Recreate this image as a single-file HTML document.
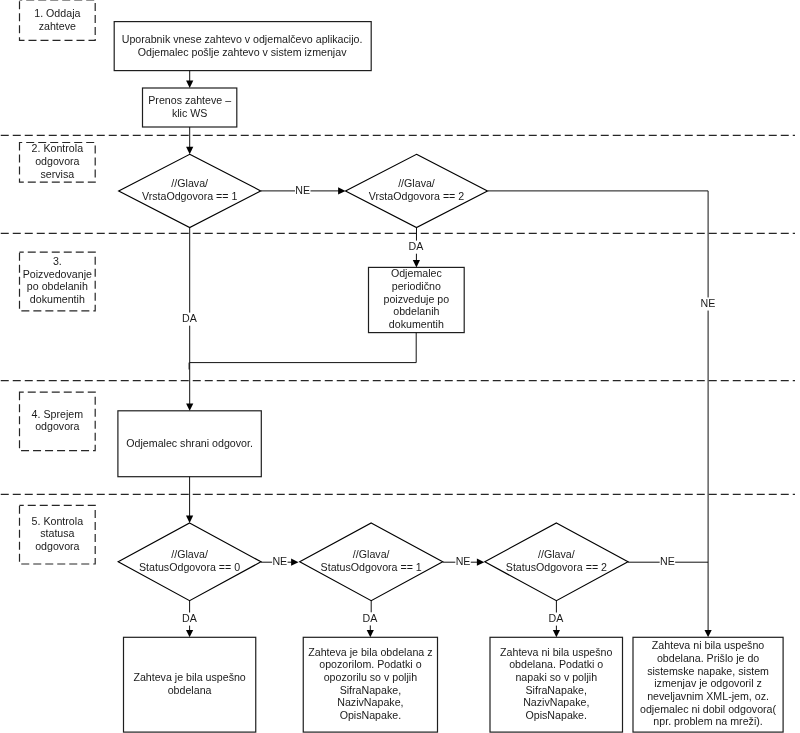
<!DOCTYPE html>
<html><head><meta charset="utf-8"><title>Flowchart</title>
<style>
html,body{margin:0;padding:0;background:#fff;width:800px;height:733px;overflow:hidden}
svg{display:block;will-change:transform}
text{font-family:"Liberation Sans",sans-serif;font-size:10.65px;fill:#1a1a1a;text-anchor:middle}
.sep{stroke:#262626;stroke-width:1.2;stroke-dasharray:8 4;stroke-dashoffset:-0.75;fill:none}
.lbl{stroke:#262626;stroke-width:1.2;stroke-dasharray:8 4;stroke-dashoffset:5.3;fill:none}
.box{stroke:#1e1e1e;stroke-width:1.2;fill:none}
.dia{stroke:#000;stroke-width:1.15;fill:none}
.con{stroke:#111;stroke-width:1;fill:none}
.ah{fill:#000;stroke:none}
.lb{fill:#fff;stroke:none}
</style></head>
<body><svg width="800" height="733" viewBox="0 0 800 733">
<line class="sep" x1="0" y1="135.35" x2="795" y2="135.35"/>
<line class="sep" x1="0" y1="233.4" x2="795" y2="233.4"/>
<line class="sep" x1="0" y1="380.6" x2="795" y2="380.6"/>
<line class="sep" x1="0" y1="494.35" x2="795" y2="494.35"/>
<path class="lbl" style="stroke-dashoffset:5.3" d="M19.5,0.0 H95.2 V40.3 H19.5 Z"/>
<text x="57.35" y="17.00">1. Oddaja</text>
<text x="57.35" y="29.50">zahteve</text>
<path class="lbl" style="stroke-dashoffset:5.3" d="M19.5,142.5 H95.2 V182.1 H19.5 Z"/>
<text x="57.35" y="152.30">2. Kontrola</text>
<text x="57.35" y="164.90">odgovora</text>
<text x="57.35" y="177.50">servisa</text>
<path class="lbl" style="stroke-dashoffset:3.75" d="M19.5,252.2 H95.2 V310.9 H19.5 Z"/>
<text x="57.35" y="265.00">3.</text>
<text x="57.35" y="277.60">Poizvedovanje</text>
<text x="57.35" y="290.20">po obdelanih</text>
<text x="57.35" y="302.80">dokumentih</text>
<path class="lbl" style="stroke-dashoffset:3.75" d="M19.5,392.2 H95.2 V450.6 H19.5 Z"/>
<text x="57.35" y="417.70">4. Sprejem</text>
<text x="57.35" y="430.30">odgovora</text>
<path class="lbl" style="stroke-dashoffset:3.75" d="M19.5,505.4 H95.2 V564.0 H19.5 Z"/>
<text x="57.35" y="524.60">5. Kontrola</text>
<text x="57.35" y="537.20">statusa</text>
<text x="57.35" y="549.80">odgovora</text>
<rect class="box" x="114.2" y="21.6" width="257.00" height="49.00"/>
<text x="242.10" y="42.80">Uporabnik vnese zahtevo v odjemalčevo aplikacijo.</text>
<text x="242.10" y="55.50">Odjemalec pošlje zahtevo v sistem izmenjav</text>
<rect class="box" x="142.5" y="88" width="94.30" height="39.00"/>
<text x="189.65" y="103.75">Prenos zahteve –</text>
<text x="189.65" y="116.50">klic WS</text>
<rect class="box" x="368.5" y="267.4" width="95.70" height="65.20"/>
<text x="416.35" y="277.40">Odjemalec</text>
<text x="416.35" y="290.00">periodično</text>
<text x="416.35" y="302.60">poizveduje po</text>
<text x="416.35" y="315.20">obdelanih</text>
<text x="416.35" y="327.90">dokumentih</text>
<rect class="box" x="117.9" y="410.8" width="143.40" height="65.90"/>
<text x="189.60" y="446.70">Odjemalec shrani odgovor.</text>
<rect class="box" x="123.5" y="637.3" width="132.25" height="94.80"/>
<text x="189.60" y="681.25">Zahteva je bila uspešno</text>
<text x="189.60" y="693.75">obdelana</text>
<rect class="box" x="303.25" y="637.3" width="134.25" height="94.80"/>
<text x="370.40" y="655.50">Zahteva je bila obdelana z</text>
<text x="370.40" y="668.20">opozorilom. Podatki o</text>
<text x="370.40" y="680.90">opozorilu so v poljih</text>
<text x="370.40" y="693.60">SifraNapake,</text>
<text x="370.40" y="706.20">NazivNapake,</text>
<text x="370.40" y="718.80">OpisNapake.</text>
<rect class="box" x="490" y="637.3" width="132.50" height="94.80"/>
<text x="556.25" y="655.50">Zahteva ni bila uspešno</text>
<text x="556.25" y="668.20">obdelana. Podatki o</text>
<text x="556.25" y="680.90">napaki so v poljih</text>
<text x="556.25" y="693.60">SifraNapake,</text>
<text x="556.25" y="706.20">NazivNapake,</text>
<text x="556.25" y="718.80">OpisNapake.</text>
<rect class="box" x="633" y="637.3" width="150.10" height="94.80"/>
<text x="708.05" y="649.00">Zahteva ni bila uspešno</text>
<text x="708.05" y="661.80">obdelana. Prišlo je do</text>
<text x="708.05" y="674.50">sistemske napake, sistem</text>
<text x="708.05" y="687.20">izmenjav je odgovoril z</text>
<text x="708.05" y="699.90">neveljavnim XML-jem, oz.</text>
<text x="708.05" y="712.60">odjemalec ni dobil odgovora(</text>
<text x="708.05" y="725.40">npr. problem na mreži).</text>
<path class="dia" d="M189.7,154.3 L260.7,190.9 L189.7,227.5 L118.69999999999999,190.9 Z"/>
<text x="189.70" y="186.70">//Glava/</text>
<text x="189.70" y="199.50">VrstaOdgovora == 1</text>
<path class="dia" d="M416.5,154.3 L487.5,190.9 L416.5,227.5 L345.5,190.9 Z"/>
<text x="416.50" y="186.70">//Glava/</text>
<text x="416.50" y="199.50">VrstaOdgovora == 2</text>
<path class="dia" d="M189.6,522.9 L261.0,561.8 L189.6,600.6999999999999 L118.19999999999999,561.8 Z"/>
<text x="189.60" y="558.30">//Glava/</text>
<text x="189.60" y="571.20">StatusOdgovora == 0</text>
<path class="dia" d="M371.2,522.9 L442.7,561.8 L371.2,600.6999999999999 L299.7,561.8 Z"/>
<text x="371.20" y="558.30">//Glava/</text>
<text x="371.20" y="571.20">StatusOdgovora == 1</text>
<path class="dia" d="M556.4,522.9 L628.0,561.8 L556.4,600.6999999999999 L484.79999999999995,561.8 Z"/>
<text x="556.40" y="558.30">//Glava/</text>
<text x="556.40" y="571.20">StatusOdgovora == 2</text>
<path class="con" d="M189.7,70.6 L189.7,84"/>
<path class="ah" d="M189.7,88 L186.1,80.6 L193.29999999999998,80.6 Z"/>
<path class="con" d="M189.7,127 L189.7,150"/>
<path class="ah" d="M189.7,154.25 L186.1,146.85 L193.29999999999998,146.85 Z"/>
<path class="con" d="M260.7,190.9 L341,190.9"/>
<path class="ah" d="M345.5,190.9 L338.1,187.3 L338.1,194.5 Z"/>
<path class="con" d="M487.5,190.9 L708.1,190.9 L708.1,633"/>
<path class="ah" d="M708.1,637.3 L704.5,629.9 L711.7,629.9 Z"/>
<path class="con" d="M416.5,227.5 L416.4,263"/>
<path class="ah" d="M416.4,267.4 L412.79999999999995,260.0 L420.0,260.0 Z"/>
<path class="con" d="M189.7,227.5 L189.7,406"/>
<path class="ah" d="M189.7,410.8 L186.1,403.40000000000003 L193.29999999999998,403.40000000000003 Z"/>
<path class="con" d="M416.2,332.6 L416.2,362.6 L189.7,362.6"/>
<path class="con" d="M189.1,362.6 L189.1,369.5"/>
<path class="con" d="M189.6,476.7 L189.6,518"/>
<path class="ah" d="M189.6,522.9 L186.0,515.5 L193.2,515.5 Z"/>
<path class="con" d="M261.0,562.2 L294,562.2"/>
<path class="ah" d="M298.5,562.2 L291.1,558.6 L291.1,565.8000000000001 Z"/>
<path class="con" d="M442.7,562.2 L479,562.2"/>
<path class="ah" d="M484.3,562.2 L476.90000000000003,558.6 L476.90000000000003,565.8000000000001 Z"/>
<path class="con" d="M628.0,562.2 L708.1,562.2"/>
<path class="con" d="M189.6,600.7 L189.6,632"/>
<path class="ah" d="M189.6,637.3 L186.0,629.9 L193.2,629.9 Z"/>
<path class="con" d="M371.2,600.7 L371.2,618 L370.3,618 L370.3,632"/>
<path class="ah" d="M370.3,637.3 L366.7,629.9 L373.90000000000003,629.9 Z"/>
<path class="con" d="M556.4,600.7 L556.4,632"/>
<path class="ah" d="M556.4,637.3 L552.8,629.9 L560.0,629.9 Z"/>
<rect class="lb" x="295.00" y="184.30" width="15.5" height="13.1"/>
<text x="302.75" y="193.70">NE</text>
<rect class="lb" x="700.15" y="297.45" width="15.5" height="13.1"/>
<text x="707.90" y="306.85">NE</text>
<rect class="lb" x="408.25" y="240.60" width="15.5" height="13.1"/>
<text x="416.00" y="250.00">DA</text>
<rect class="lb" x="181.75" y="312.60" width="15.5" height="13.1"/>
<text x="189.50" y="322.00">DA</text>
<rect class="lb" x="272.10" y="555.40" width="15.5" height="13.1"/>
<text x="279.85" y="564.80">NE</text>
<rect class="lb" x="455.30" y="555.40" width="15.5" height="13.1"/>
<text x="463.05" y="564.80">NE</text>
<rect class="lb" x="659.65" y="555.40" width="15.5" height="13.1"/>
<text x="667.40" y="564.80">NE</text>
<rect class="lb" x="181.75" y="612.50" width="15.5" height="13.1"/>
<text x="189.50" y="621.90">DA</text>
<rect class="lb" x="362.25" y="612.30" width="15.5" height="13.1"/>
<text x="370.00" y="621.70">DA</text>
<rect class="lb" x="548.15" y="612.50" width="15.5" height="13.1"/>
<text x="555.90" y="621.90">DA</text>
</svg></body></html>
